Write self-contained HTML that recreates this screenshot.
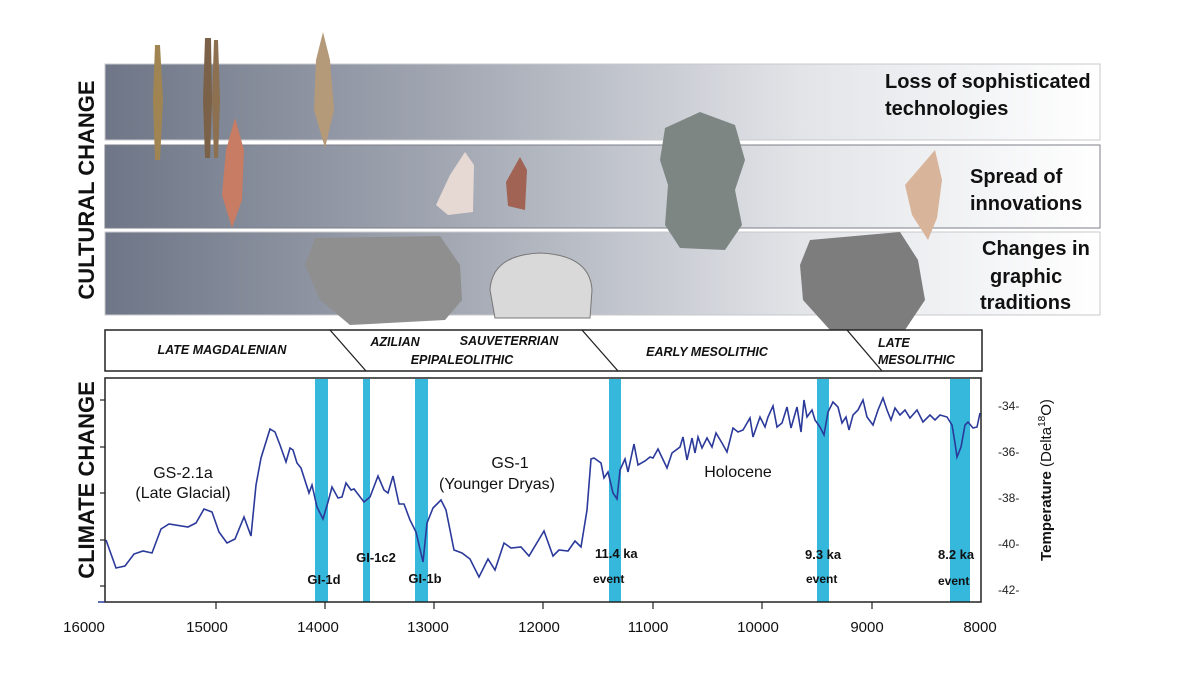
<!DOCTYPE html>
<html><head><meta charset="utf-8"><style>
html,body{margin:0;padding:0;background:#fff;}
svg{display:block;font-family:"Liberation Sans",sans-serif;}
</style></head><body>
<svg width="1200" height="700" viewBox="0 0 1200 700" xmlns="http://www.w3.org/2000/svg">
<defs>
<linearGradient id="band" x1="0" y1="0" x2="1" y2="0">
<stop offset="0" stop-color="#6e7687"/><stop offset="0.35" stop-color="#a3a8b3"/><stop offset="0.7" stop-color="#e2e4e8"/><stop offset="1" stop-color="#ffffff"/>
</linearGradient>
</defs>
<!-- bands -->
<rect x="105" y="64" width="995" height="76" fill="url(#band)" stroke="#c8c8cc" stroke-width="1"/>
<rect x="105" y="145" width="995" height="83" fill="url(#band)" stroke="#7c7f8a" stroke-width="1"/>
<rect x="105" y="232" width="995" height="83" fill="url(#band)" stroke="#c8c8cc" stroke-width="1"/>
<g font-weight="bold" font-size="20" fill="#111">
<text x="885" y="88">Loss of sophisticated</text>
<text x="885" y="115">technologies</text>
<text x="970" y="183">Spread of</text>
<text x="970" y="210">innovations</text>
<text x="982" y="255">Changes in</text>
<text x="990" y="283">graphic</text>
<text x="980" y="309">traditions</text>
</g>
<!-- artifacts -->
<path d="M155 45 L160 45 L163 100 L160 160 L155 160 L153 100Z" fill="#a08452"/>
<path d="M205 38 L211 38 L212 100 L210 158 L205 158 L203 100Z" fill="#7a6148"/>
<path d="M214 40 L218 40 L220 100 L218 158 L214 158 L212 100Z" fill="#8d7050"/>
<path d="M323 32 L330 60 L334 110 L325 148 L314 110 L316 60Z" fill="#b59a7a"/>
<path d="M235 118 L244 150 L242 200 L232 228 L222 195 L226 150Z" fill="#c77c63"/>
<path d="M465 152 L474 165 L473 212 L448 215 L436 205 L450 175Z" fill="#e6d9d4"/>
<path d="M520 157 L527 170 L525 210 L508 206 L506 182Z" fill="#a06354"/>
<path d="M665 128 L700 112 L735 125 L745 160 L735 190 L742 225 L725 250 L680 248 L665 225 L668 185 L660 160Z" fill="#7d8683"/>
<path d="M935 150 L942 180 L937 218 L928 240 L912 215 L905 185Z" fill="#d8b49a"/>
<path d="M315 238 L440 236 L460 265 L462 300 L445 320 L350 325 L320 300 L305 265Z" fill="#8f8f8f"/>
<path d="M490 290 Q492 255 540 253 Q590 255 592 290 L590 318 L495 318Z" fill="#d9d9d9" stroke="#777"/>
<path d="M810 240 L900 232 L918 260 L925 300 L905 330 L830 330 L803 300 L800 265Z" fill="#7d7d7d"/>
<!-- left labels -->
<g font-weight="bold" font-size="22" fill="#111">
<text transform="translate(94,190) rotate(-90)" text-anchor="middle">CULTURAL CHANGE</text>
<text transform="translate(94,480) rotate(-90)" text-anchor="middle">CLIMATE  CHANGE</text>
</g>
<!-- period box -->
<rect x="105" y="330" width="877" height="41" fill="#fff" stroke="#222" stroke-width="1.5"/>
<line x1="330" y1="330" x2="366" y2="371" stroke="#222" stroke-width="1.3"/>
<line x1="582" y1="330" x2="618" y2="371" stroke="#222" stroke-width="1.3"/>
<line x1="847" y1="330" x2="882" y2="371" stroke="#222" stroke-width="1.3"/>
<g font-weight="bold" font-style="italic" font-size="12.5" fill="#111">
<text x="222" y="354" text-anchor="middle">LATE MAGDALENIAN</text>
<text x="395" y="346" text-anchor="middle">AZILIAN</text>
<text x="509" y="345" text-anchor="middle">SAUVETERRIAN</text>
<text x="462" y="364" text-anchor="middle">EPIPALEOLITHIC</text>
<text x="707" y="356" text-anchor="middle">EARLY MESOLITHIC</text>
<text x="878" y="347">LATE</text>
<text x="878" y="364">MESOLITHIC</text>
</g>
<!-- plot -->
<g fill="#35b8dc">
<rect x="315" y="379" width="13" height="223"/>
<rect x="363" y="379" width="7" height="223"/>
<rect x="415" y="379" width="13" height="223"/>
<rect x="609" y="379" width="12" height="223"/>
<rect x="817" y="379" width="12" height="223"/>
<rect x="950" y="379" width="20" height="223"/>
</g>
<rect x="105" y="378" width="876" height="224" fill="none" stroke="#222" stroke-width="1.5"/>
<polyline fill="none" stroke="#2b3a9a" stroke-width="1.6" points="106,540 116,568 125,566 134,554 143,551 152,553 161,529 169,524 188,527 196,523 204,509 212,512 219,532 227,543 235,539 244,517 251,536 256,485 261,458 270,429 275,432 280,445 286,462 290,448 293,450 297,463 301,468 309,493 312,485 317,507 323,519 328,502 332,487 338,498 342,497 346,483 351,490 354,489 364,502 370,497 378,476 384,490 388,493 393,476 399,504 404,504 410,520 416,532 423,562 427,523 433,508 441,500 446,510 454,550 462,553 470,559 479,577 488,559 495,570 504,543 511,548 521,547 529,556 544,531 553,556 559,550 568,551 575,541 581,547 587,510 591,459 594,458 601,463 604,478 608,472 613,493 617,499 620,470 625,459 628,472 634,444 638,465 645,461 650,457 653,458 658,449 667,468 672,453 680,447 683,437 687,460 692,438 695,453 698,437 702,448 707,438 712,447 716,433 722,443 727,452 733,428 738,432 743,430 750,418 753,437 760,417 765,427 768,417 773,406 777,427 782,423 787,407 791,428 797,407 801,432 804,400 807,417 812,410 815,420 820,427 824,435 828,412 833,402 838,407 842,423 846,417 849,430 853,415 858,410 863,400 867,417 873,425 878,410 883,398 887,410 891,420 895,408 900,415 905,410 910,418 917,410 923,422 930,415 935,420 940,415 947,417 952,425 955,443 957,457 961,447 965,425 968,422 973,428 977,427 980,413"/>
<g stroke="#222" stroke-width="1.2">
<line x1="100" y1="400" x2="105" y2="400"/><line x1="100" y1="447" x2="105" y2="447"/><line x1="100" y1="493" x2="105" y2="493"/><line x1="100" y1="540" x2="105" y2="540"/><line x1="100" y1="586" x2="105" y2="586"/>
<line x1="216" y1="602" x2="216" y2="609"/><line x1="325" y1="602" x2="325" y2="609"/><line x1="434" y1="602" x2="434" y2="609"/><line x1="543" y1="602" x2="543" y2="609"/><line x1="653" y1="602" x2="653" y2="609"/><line x1="762" y1="602" x2="762" y2="609"/><line x1="872" y1="602" x2="872" y2="609"/>
</g>
<line x1="98" y1="602" x2="105" y2="602" stroke="#2b3a9a" stroke-width="1.5"/>
<g font-size="15" fill="#111" text-anchor="middle">
<text x="84" y="632">16000</text><text x="207" y="632">15000</text><text x="318" y="632">14000</text><text x="428" y="632">13000</text><text x="539" y="632">12000</text><text x="648" y="632">11000</text><text x="758" y="632">10000</text><text x="867" y="632">9000</text><text x="980" y="632">8000</text>
</g>
<g font-size="12" fill="#222">
<text x="998" y="410">-34-</text><text x="998" y="456">-36-</text><text x="998" y="502">-38-</text><text x="998" y="548">-40-</text><text x="998" y="594">-42-</text>
</g>
<text transform="translate(1051,480) rotate(-90)" text-anchor="middle" font-size="15" fill="#111"><tspan font-weight="bold">Temperature</tspan> (Delta<tspan font-size="10" dy="-6">18</tspan><tspan dy="6">O)</tspan></text>
<g font-size="16" fill="#111" text-anchor="middle">
<text x="183" y="478">GS-2.1a</text><text x="183" y="498">(Late Glacial)</text>
<text x="510" y="468">GS-1</text><text x="497" y="489">(Younger Dryas)</text>
<text x="738" y="477">Holocene</text>
</g>
<g font-size="13" font-weight="bold" fill="#111">
<text x="324" y="584" text-anchor="middle">GI-1d</text>
<text x="376" y="562" text-anchor="middle">GI-1c2</text>
<text x="425" y="583" text-anchor="middle">GI-1b</text>
<text x="595" y="558">11.4 ka</text><text x="593" y="583" font-size="12">event</text>
<text x="805" y="559">9.3 ka</text><text x="806" y="583" font-size="12">event</text>
<text x="938" y="559">8.2 ka</text><text x="938" y="585" font-size="12">event</text>
</g>
</svg>
</body></html>
